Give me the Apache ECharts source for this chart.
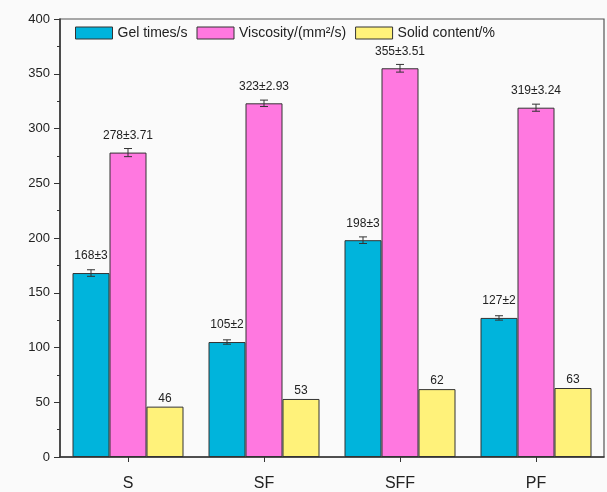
<!DOCTYPE html>
<html>
<head>
<meta charset="utf-8">
<script src="https://cdn.jsdelivr.net/npm/echarts@6/dist/echarts.min.js"></script>
<style>
  html, body { margin: 0; padding: 0; background: #fafafa; }
  #chart { width: 607px; height: 492px; }
</style>
</head>
<body>
<div id="chart"></div>
<script>
// Sample groups
const categories = ['S', 'SF', 'SFF', 'PF'];

// Gel time (s) with standard deviation
const gelTimes = [168, 105, 198, 127];
const gelErr = [3, 2, 3, 2];

// Viscosity (mm²/s) with standard deviation
const viscosity = [278, 323, 355, 319];
const viscErr = [3.71, 2.93, 3.51, 3.24];

// Solid content (%)
const solidContent = [46, 53, 62, 63];

// Y axis range and step
const yMin = 0, yMax = 400, yStep = 50;

const seriesNames = ['Gel times/s', 'Viscosity/(mm\u00B2/s)', 'Solid content/%'];
const colors = ['#00b4dc', '#ff78e0', '#fff27a'];
const BAR_W = 37;

function errorSeries(values, errs, slot, name) {
  return {
    type: 'custom',
    name: name + ' error',
    z: 5,
    silent: true,
    data: values.map((v, i) => [i, v, errs[i]]),
    renderItem: function (params, api) {
      const i = api.value(0);
      const v = api.value(1);
      const e = api.value(2);
      const top = api.coord([i, v + e]);
      const bot = api.coord([i, v - e]);
      const x = top[0] + (slot - 1) * BAR_W;
      const cap = 4;
      const st = { stroke: '#333', lineWidth: 1 };
      return {
        type: 'group',
        children: [
          { type: 'line', shape: { x1: x, y1: top[1], x2: x, y2: bot[1] }, style: st },
          { type: 'line', shape: { x1: x - cap, y1: top[1], x2: x + cap, y2: top[1] }, style: st },
          { type: 'line', shape: { x1: x - cap, y1: bot[1], x2: x + cap, y2: bot[1] }, style: st }
        ]
      };
    }
  };
}

const labelBase = {
  show: true,
  position: 'top',
  color: '#222',
  fontSize: 12,
  fontFamily: 'Liberation Sans, Arial, sans-serif'
};

const chart = echarts.init(document.getElementById('chart'));
chart.setOption({
  backgroundColor: '#fafafa',
  animation: false,
  textStyle: { fontFamily: 'Liberation Sans, Arial, sans-serif' },
  grid: {
    left: 60, right: 3, top: 19, bottom: 34,
    show: true, borderColor: '#555', borderWidth: 1.2, backgroundColor: '#fafafa'
  },
  legend: {
    left: 75, top: 26, padding: 0,
    itemWidth: 37, itemHeight: 12, itemGap: 9,
    icon: 'rect',
    data: seriesNames,
    textStyle: { fontSize: 14, color: '#222' },
    itemStyle: { borderColor: '#333', borderWidth: 1 }
  },
  xAxis: {
    type: 'category',
    data: categories,
    axisLine: { lineStyle: { color: '#333', width: 1.5 } },
    axisTick: { show: true, alignWithLabel: true, inside: false, length: 5, lineStyle: { color: '#333' } },
    axisLabel: { fontSize: 16, color: '#222', margin: 19 }
  },
  yAxis: {
    type: 'value',
    min: yMin, max: yMax, interval: yStep,
    splitLine: { show: false },
    axisLine: { show: true, lineStyle: { color: '#333', width: 1.5 } },
    axisTick: { show: true, length: 6, lineStyle: { color: '#333' } },
    minorTick: { show: true, splitNumber: 2, length: 3, lineStyle: { color: '#333' } },
    axisLabel: { fontSize: 13, color: '#222', margin: 10 }
  },
  series: [
    {
      name: seriesNames[0], type: 'bar', barWidth: BAR_W, barGap: '0%',
      data: gelTimes,
      itemStyle: { color: colors[0], borderColor: '#333', borderWidth: 1 },
      label: Object.assign({}, labelBase, {
        distance: 11,
        formatter: p => gelTimes[p.dataIndex] + '\u00B1' + gelErr[p.dataIndex]
      })
    },
    {
      name: seriesNames[1], type: 'bar', barWidth: BAR_W, barGap: '0%',
      data: viscosity,
      itemStyle: { color: colors[1], borderColor: '#333', borderWidth: 1 },
      label: Object.assign({}, labelBase, {
        distance: 11,
        formatter: p => viscosity[p.dataIndex] + '\u00B1' + viscErr[p.dataIndex].toFixed(2)
      })
    },
    {
      name: seriesNames[2], type: 'bar', barWidth: BAR_W, barGap: '0%',
      data: solidContent,
      itemStyle: { color: colors[2], borderColor: '#333', borderWidth: 1 },
      label: Object.assign({}, labelBase, { distance: 2 })
    },
    errorSeries(gelTimes, gelErr, 0, seriesNames[0]),
    errorSeries(viscosity, viscErr, 1, seriesNames[1])
  ]
});
</script>
</body>
</html>
